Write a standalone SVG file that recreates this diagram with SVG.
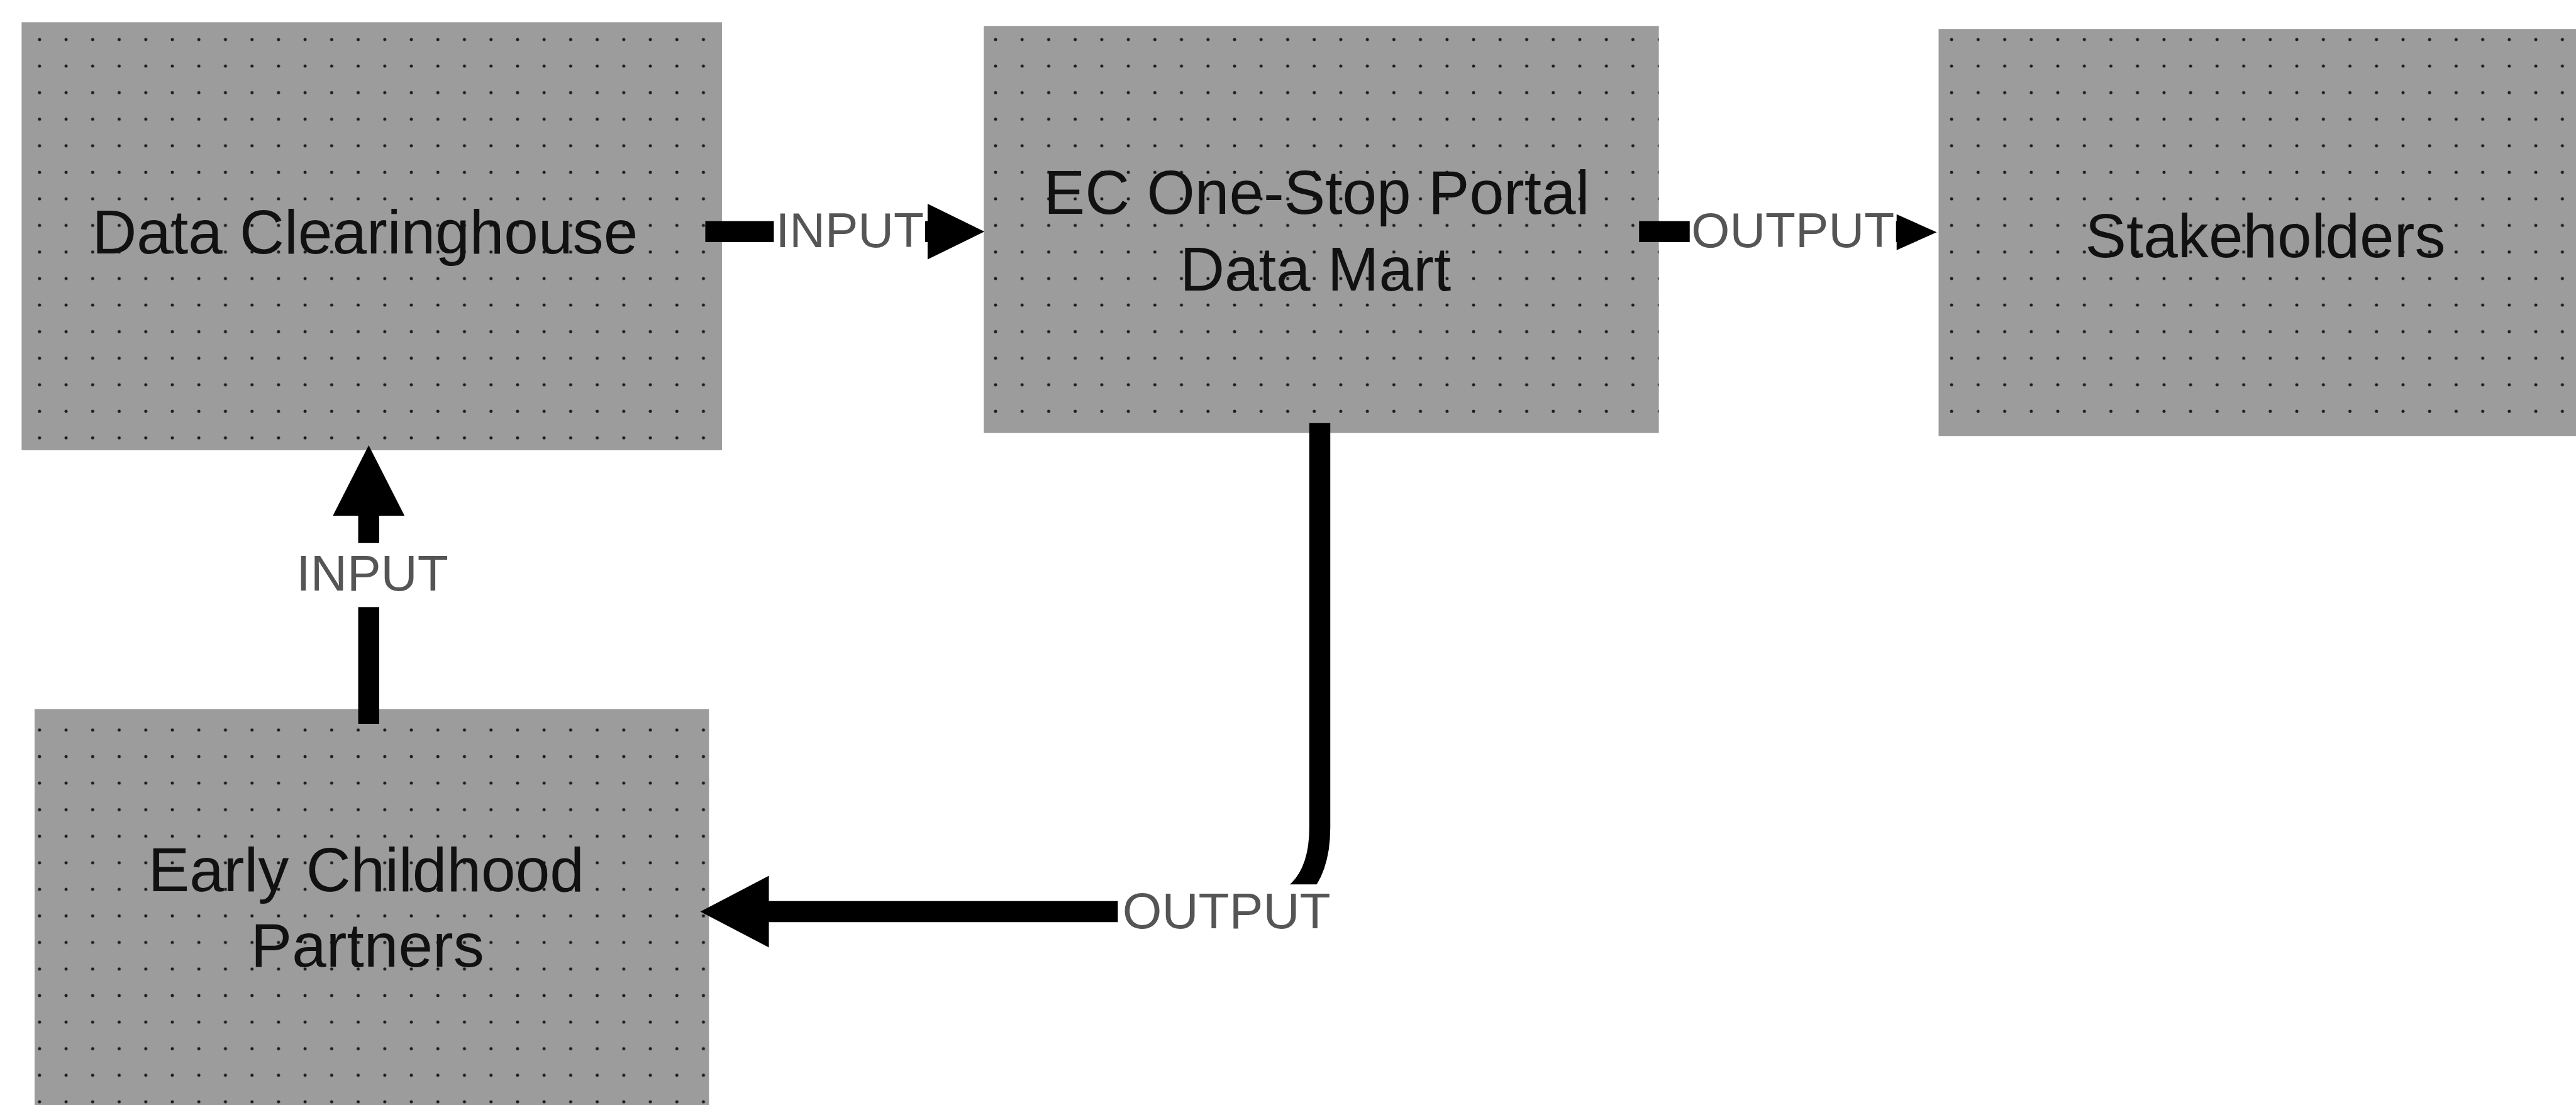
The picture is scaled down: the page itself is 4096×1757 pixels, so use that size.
<svg xmlns="http://www.w3.org/2000/svg" width="4096" height="1757" viewBox="0 0 4096 1757">
<defs>
<pattern id="halftone" width="43" height="43" patternUnits="userSpaceOnUse">
<rect width="43" height="43" fill="#9c9c9c"/>
<circle cx="21" cy="21" r="2.5" fill="#1a1a1a"/>
</pattern>
<style>
.box{fill:url(#halftone);}
.ntext{font-family:"Liberation Sans",Arial,sans-serif;font-size:100px;fill:#111;text-anchor:middle;}
.ltext{font-family:"Liberation Sans",Arial,sans-serif;fill:#555;text-anchor:middle;}
.line{fill:none;stroke:#000;stroke-width:34;}
.head{fill:#000;}
.lbg{fill:#fff;}
</style>
</defs>
<rect width="4096" height="1757" fill="#fff"/>
<g transform="scale(0.982)">
<g id="node-data-clearinghouse">
<rect class="box" x="35" y="36" width="1134" height="693"/>
<text class="ntext" x="591" y="410">Data Clearinghouse</text>
</g>
<g id="node-ec-portal">
<rect class="box" x="1593" y="42" width="1093" height="659"/>
<text class="ntext" x="2132" y="346">EC One-Stop Portal</text>
<text class="ntext" x="2130" y="470">Data Mart</text>
</g>
<g id="node-stakeholders">
<rect class="box" x="3139" y="47" width="1100" height="659"/>
<text class="ntext" x="3668" y="416">Stakeholders</text>
</g>
<g id="node-ec-partners">
<rect class="box" x="56" y="1148" width="1092" height="700"/>
<text class="ntext" x="593" y="1443">Early Childhood</text>
<text class="ntext" x="595" y="1565">Partners</text>
</g>
<g id="connectors">
<g id="c-dc-ec">
<path class="line" d="M1142 375 H1504"/>
<rect class="lbg" x="1253" y="328" width="245" height="92"/>
<text class="ltext" x="1376" y="400" font-size="80">INPUT</text>
<polygon class="head" points="1502,330 1594,375 1502,420"/>
</g>
<g id="c-ec-stake">
<path class="line" d="M2654 375 H3073"/>
<rect class="lbg" x="2736" y="328" width="334" height="92"/>
<text class="ltext" x="2903" y="400" font-size="80">OUTPUT</text>
<polygon class="head" points="3071,347 3136,376 3071,405"/>
</g>
<g id="c-ec-partners">
<path class="line" d="M2137 685 V1340 Q2137 1476 2000 1476 H1243"/>
<rect class="lbg" x="1810" y="1432" width="352" height="84"/>
<text class="ltext" x="1986" y="1503" font-size="82">OUTPUT</text>
<polygon class="head" points="1245,1418 1134,1476 1245,1534"/>
</g>
<g id="c-partners-dc">
<path class="line" d="M597 1172 V833"/>
<rect class="lbg" x="470" y="879" width="266" height="104"/>
<text class="ltext" x="603" y="956" font-size="82">INPUT</text>
<polygon class="head" points="539,835 597,721 655,835"/>
</g>
</g>
</g>
</svg>
